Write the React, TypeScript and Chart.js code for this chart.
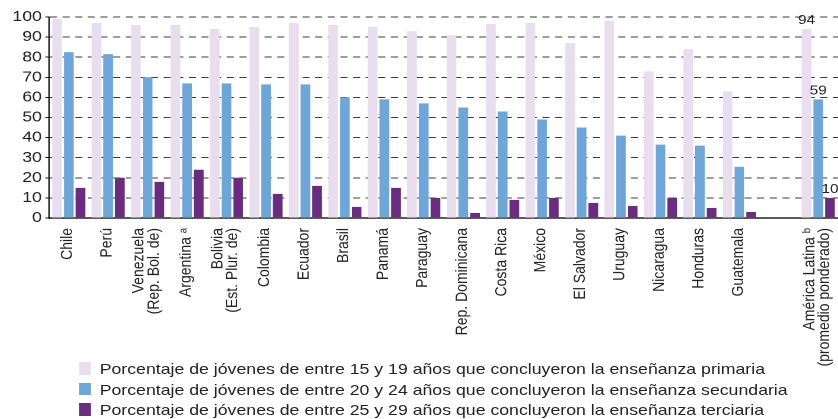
import React, { useEffect, useRef } from 'react';
import { Chart, registerables } from 'chart.js';

Chart.register(...registerables);

const FONT = "'Liberation Sans', Arial, Helvetica, sans-serif";
// the reference is horizontally stretched; we draw in a narrower box and stretch it
const STRETCH = 838 / 710;
const INNER_W = 710;
const H = 419;

const categories: (string | string[])[] = [
  'Chile',
  'Perú',
  ['Venezuela', '(Rep. Bol. de)'],
  'Argentina ᵃ',
  ['Bolivia', '(Est. Plur. de)'],
  'Colombia',
  'Ecuador',
  'Brasil',
  'Panamá',
  'Paraguay',
  'Rep. Dominicana',
  'Costa Rica',
  'México',
  'El Salvador',
  'Uruguay',
  'Nicaragua',
  'Honduras',
  'Guatemala',
  '',
  ['América Latina ᵇ', '(promedio ponderado)'],
];

const primaria = [99, 97, 96, 96, 94, 95, 97, 96, 95, 93, 91, 96.5, 97, 87, 98, 73, 84, 63, null, 94];
const secundaria = [82.5, 81.5, 70, 67, 67, 66.5, 66.5, 60, 59, 57, 55, 53, 49, 45, 41, 36.5, 36, 25.5, null, 59];
const terciaria = [15, 20, 18, 24, 20, 12, 16, 5.5, 15, 10, 2.5, 9, 10, 7.5, 6, 10, 5, 3, null, 10];

const seriesNames = [
  'Porcentaje de jóvenes de entre 15 y 19 años que concluyeron la enseñanza primaria',
  'Porcentaje de jóvenes de entre 20 y 24 años que concluyeron la enseñanza secundaria',
  'Porcentaje de jóvenes de entre 25 y 29 años que concluyeron la enseñanza terciaria',
];
const seriesColors = ['#E9DEEE', '#6FA6D8', '#6A2D7E'];

const yMin = 0;
const yMax = 100;
const yStep = 10;
const labeledIndex = 19;

const valueLabels = {
  id: 'valueLabels',
  afterDatasetsDraw(chart: any) {
    const ctx = chart.ctx;
    ctx.save();
    ctx.font = `13px ${FONT}`;
    ctx.fillStyle = '#222';
    ctx.textAlign = 'center';
    ctx.textBaseline = 'bottom';
    chart.data.datasets.forEach((ds: any, di: number) => {
      const el = chart.getDatasetMeta(di).data[labeledIndex];
      const v = ds.data[labeledIndex];
      if (el && v != null) ctx.fillText(String(v), el.x, el.y - 2);
    });
    ctx.restore();
  },
};

// category labels rotated 90°, with multi-line labels centred on their tick
const xLabels = {
  id: 'xLabels',
  afterDraw(chart: any) {
    const ctx = chart.ctx;
    const scale = chart.scales.x;
    const lh = 12.7;
    ctx.save();
    ctx.font = `14px ${FONT}`;
    ctx.fillStyle = '#222';
    ctx.textAlign = 'right';
    ctx.textBaseline = 'middle';
    (chart.data.labels as any[]).forEach((lab, i) => {
      const lines = Array.isArray(lab) ? lab : [lab];
      if (!lines.join('')) return;
      const x = scale.getPixelForTick(i) - 1;
      const y = chart.chartArea.bottom + 10;
      ctx.save();
      ctx.translate(x, y);
      ctx.rotate(-Math.PI / 2);
      lines.forEach((ln: string, j: number) => {
        ctx.fillText(ln, 0, (j - (lines.length - 1) / 2) * lh);
      });
      ctx.restore();
    });
    ctx.restore();
  },
};

export default function App() {
  const canvasRef = useRef<HTMLCanvasElement | null>(null);

  useEffect(() => {
    document.body.style.margin = '0';
    const canvas = canvasRef.current;
    if (!canvas) return;
    const datasets = [primaria, secundaria, terciaria].map((d, i) => ({
      label: seriesNames[i],
      data: d,
      backgroundColor: seriesColors[i],
      borderWidth: 0,
      barPercentage: 0.83,
      categoryPercentage: 0.89,
    }));
    const chart = new Chart(canvas, {
      type: 'bar',
      data: { labels: categories as any, datasets },
      plugins: [valueLabels, xLabels],
      options: {
        animation: false,
        responsive: true,
        maintainAspectRatio: false,
        devicePixelRatio: 2,
        layout: { padding: { top: 17, left: 0, right: 0, bottom: 0 } },
        plugins: {
          legend: { display: false },
          tooltip: { enabled: false },
        },
        scales: {
          x: {
            offset: true,
            grid: { display: false, drawTicks: false },
            border: { display: true, color: '#5a5a5a', width: 2 },
            ticks: { display: false, autoSkip: false },
            afterFit: (scale: any) => {
              scale.height = 201;
            },
          },
          y: {
            min: yMin,
            max: yMax,
            ticks: {
              stepSize: yStep,
              autoSkip: false,
              padding: 3,
              color: '#222',
              font: { family: FONT, size: 15, lineHeight: 1 },
            },
            grid: {
              color: '#3a3a3a',
              lineWidth: 1,
              tickLength: 3,
              tickColor: '#111',
            },
            border: { display: true, color: '#111', width: 1.3, dash: [6, 4.7] },
            afterFit: (scale: any) => {
              scale.width = 49 / STRETCH;
            },
          },
        },
      },
    });
    return () => chart.destroy();
  }, []);

  return (
    <div style={{ position: 'absolute', left: 0, top: 0, width: 838, height: H, background: '#fff', overflow: 'hidden' }}>
      <div
        style={{
          position: 'absolute',
          left: 0,
          top: 0,
          width: INNER_W,
          height: H,
          transform: `scaleX(${STRETCH})`,
          transformOrigin: '0 0',
        }}
      >
        <canvas ref={canvasRef} />
        <div
          style={{
            position: 'absolute',
            left: 79 / STRETCH,
            top: 358.4,
            fontFamily: FONT,
            fontSize: 15,
            color: '#222',
          }}
        >
          {seriesNames.map((n, i) => (
            <div key={i} style={{ display: 'flex', alignItems: 'center', height: 20.5, whiteSpace: 'nowrap' }}>
              <span
                style={{
                  display: 'inline-block',
                  width: 12 / STRETCH,
                  height: 12.7,
                  background: seriesColors[i],
                  marginRight: (99.7 - 91) / STRETCH,
                }}
              />
              <span>{n}</span>
            </div>
          ))}
        </div>
      </div>
    </div>
  );
}
